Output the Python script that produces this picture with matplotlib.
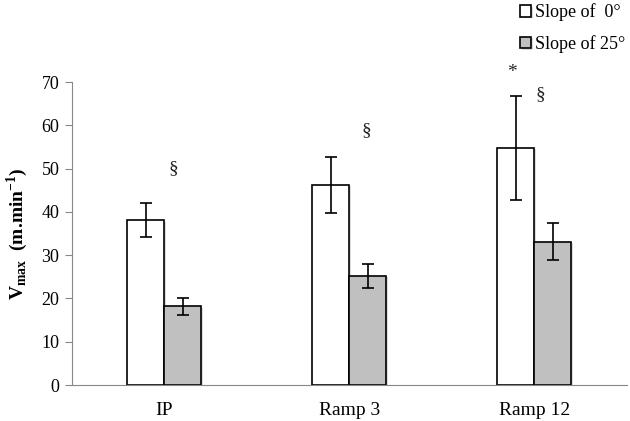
import numpy as np
import matplotlib.pyplot as plt
import matplotlib.patheffects as pe

plt.rcParams['font.family'] = ['Liberation Serif', 'DejaVu Serif']
plt.rcParams['mathtext.fontset'] = 'custom'
plt.rcParams['mathtext.rm'] = 'Liberation Serif'
plt.rcParams['mathtext.bf'] = 'Liberation Serif:bold'

# data
categories = ['IP', 'Ramp 3', 'Ramp 12']
slope0_mean = [38.1, 46.3, 54.8]
slope0_err = [3.9, 6.5, 12.1]
slope25_mean = [18.2, 25.2, 33.1]
slope25_err = [2.0, 2.8, 4.3]
labels = ['Slope of  0°', 'Slope of 25°']

# significance marks: (text, x in category units, y value)
marks = [('§', 0.05, 49.9), ('§', 1.09, 58.7), ('*', 1.88, 72.3), ('§', 2.03, 67.0)]

fig = plt.figure(figsize=(6.3, 4.21), dpi=100)
ax = fig.add_axes([0.114, 0.0855, 0.881, 0.7195])

x = np.arange(len(categories))
w = 0.2
shadow = [pe.SimplePatchShadow(offset=(1.5, -1), shadow_rgbFace='#999999', alpha=0.35), pe.Normal()]

b1 = ax.bar(x - w / 2, slope0_mean, w, color='white', edgecolor='black', linewidth=1.2,
            path_effects=shadow, zorder=2)
b2 = ax.bar(x + w / 2, slope25_mean, w, color='#c0c0c0', edgecolor='black', linewidth=1.2,
            path_effects=shadow, zorder=2)
ax.errorbar(x - w / 2, slope0_mean, yerr=slope0_err, fmt='none', ecolor='black',
            elinewidth=1.2, capsize=4, capthick=1.2, zorder=3)
ax.errorbar(x + w / 2, slope25_mean, yerr=slope25_err, fmt='none', ecolor='black',
            elinewidth=1.2, capsize=4, capthick=1.2, zorder=3)

for t, mx, my in marks:
    ax.text(mx, my, t, ha='center', va='center', fontsize=14, color='#222222', clip_on=False)

ax.set_xlim(-0.5, 2.5)
ax.set_ylim(0, 70)
ax.set_yticks(range(0, 71, 10))
ax.set_xticks(x)
ax.set_xticklabels(categories)
ax.tick_params(axis='x', length=0, pad=12, labelsize=14)
ax.tick_params(axis='y', length=5, color='#888888', labelsize=13, pad=4)
for s in ['top', 'right']:
    ax.spines[s].set_visible(False)
for s in ['left', 'bottom']:
    ax.spines[s].set_color('#888888')
ax.set_ylabel(r'$\mathbf{V_{max}}$  (m.min$^{\mathbf{-1}}$)', fontsize=14, fontweight='bold', labelpad=8)

fig.legend([b1, b2], labels, loc='upper left', bbox_to_anchor=(0.80, 1.03), frameon=False,
           handlelength=0.6, handleheight=0.6, handletextpad=0.2, labelspacing=0.75, fontsize=13)

fig.savefig('out.png')
